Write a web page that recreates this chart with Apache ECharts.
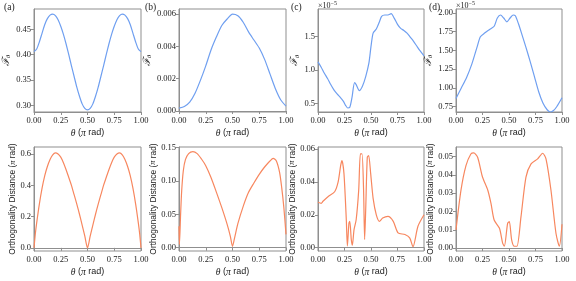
<!DOCTYPE html>
<html><head><meta charset="utf-8">
<script src="https://cdn.jsdelivr.net/npm/echarts@6/dist/echarts.min.js"></script>
<style>html,body{margin:0;padding:0;background:#fff}#c{width:576px;height:281px}</style>
</head><body><div id="c"></div>
<script>
// ---- data ----
const xTicks = [0, 0.25, 0.5, 0.75, 1.0];
const fA = [[0,0.406],[0.025,0.411],[0.05,0.425],[0.075,0.442],[0.1,0.459],[0.125,0.471],[0.15,0.478],[0.175,0.480],[0.2,0.477],[0.225,0.469],[0.25,0.456],[0.275,0.440],[0.3,0.421],[0.325,0.400],[0.35,0.378],[0.375,0.357],[0.4,0.336],[0.425,0.318],[0.45,0.303],[0.475,0.294],[0.5,0.291],[0.525,0.294],[0.55,0.303],[0.575,0.318],[0.6,0.336],[0.625,0.357],[0.65,0.378],[0.675,0.400],[0.7,0.421],[0.725,0.440],[0.75,0.456],[0.775,0.469],[0.8,0.477],[0.825,0.480],[0.85,0.478],[0.875,0.471],[0.9,0.459],[0.925,0.442],[0.95,0.425],[0.975,0.411],[1.0,0.406]];
const fB = [[0,0.00018],[0.05,0.00028],[0.1,0.00055],[0.15,0.0011],[0.2,0.0019],[0.25,0.0028],[0.3,0.0038],[0.35,0.0046],[0.4,0.0053],[0.45,0.0057],[0.5,0.0060],[0.55,0.0059],[0.6,0.0055],[0.65,0.0049],[0.7,0.0044],[0.75,0.0039],[0.8,0.0032],[0.85,0.0023],[0.9,0.0014],[0.95,0.0007],[1.0,0.0003]];
const fC = [[0,1.12],[0.03,1.04],[0.06,0.95],[0.09,0.87],[0.12,0.78],[0.15,0.70],[0.18,0.64],[0.21,0.59],[0.24,0.53],[0.26,0.47],[0.28,0.43],[0.30,0.44],[0.32,0.58],[0.345,0.81],[0.36,0.78],[0.39,0.69],[0.42,0.76],[0.45,0.90],[0.48,1.10],[0.50,1.35],[0.52,1.55],[0.55,1.61],[0.58,1.72],[0.60,1.80],[0.63,1.82],[0.66,1.82],[0.69,1.84],[0.72,1.77],[0.75,1.68],[0.78,1.62],[0.81,1.59],[0.84,1.55],[0.87,1.49],[0.90,1.43],[0.93,1.36],[0.96,1.29],[1.0,1.21]];
const fD = [[0,0.86],[0.05,1.00],[0.10,1.14],[0.15,1.32],[0.20,1.55],[0.23,1.68],[0.27,1.73],[0.32,1.78],[0.36,1.82],[0.39,1.93],[0.42,1.97],[0.45,1.93],[0.48,1.88],[0.51,1.93],[0.54,1.97],[0.56,1.96],[0.59,1.85],[0.62,1.72],[0.66,1.54],[0.70,1.35],[0.74,1.15],[0.78,0.95],[0.82,0.80],[0.86,0.71],[0.89,0.68],[0.92,0.70],[0.95,0.75],[1.0,0.87]];
const oA = [[0,0],[0.0125,0.09],[0.025,0.16],[0.05,0.28],[0.075,0.38],[0.1,0.46],[0.125,0.52],[0.15,0.565],[0.175,0.595],[0.2,0.607],[0.225,0.60],[0.25,0.58],[0.275,0.545],[0.3,0.50],[0.325,0.45],[0.35,0.40],[0.375,0.34],[0.4,0.28],[0.425,0.215],[0.45,0.145],[0.475,0.075],[0.5,0.0],[0.525,0.075],[0.55,0.145],[0.575,0.215],[0.6,0.28],[0.625,0.34],[0.65,0.40],[0.675,0.45],[0.7,0.50],[0.725,0.545],[0.75,0.58],[0.775,0.60],[0.8,0.607],[0.825,0.595],[0.85,0.565],[0.875,0.52],[0.9,0.46],[0.925,0.38],[0.95,0.28],[0.975,0.16],[0.9875,0.09],[1.0,0]];
const oB = [[0,0.032],[0.004,0.005],[0.015,0.05],[0.025,0.085],[0.04,0.115],[0.06,0.132],[0.09,0.141],[0.13,0.144],[0.17,0.141],[0.21,0.133],[0.25,0.123],[0.30,0.105],[0.35,0.083],[0.40,0.060],[0.45,0.035],[0.48,0.017],[0.50,0.002],[0.52,0.015],[0.55,0.036],[0.60,0.062],[0.65,0.083],[0.70,0.097],[0.75,0.110],[0.80,0.121],[0.85,0.130],[0.88,0.134],[0.91,0.130],[0.94,0.113],[0.96,0.090],[0.98,0.060],[1.0,0.020]];
const oC = [[0,0.0276],[0.03,0.027],[0.047,0.0282],[0.094,0.031],[0.157,0.034],[0.19,0.040],[0.214,0.050],[0.226,0.053],[0.245,0.045],[0.267,0.017],[0.277,0.001],[0.292,0.015],[0.30,0.016],[0.314,0.005],[0.324,0.0015],[0.34,0.011],[0.36,0.017],[0.384,0.035],[0.40,0.057],[0.415,0.057],[0.43,0.035],[0.44,0.005],[0.45,0.023],[0.465,0.055],[0.478,0.056],[0.497,0.045],[0.52,0.030],[0.55,0.020],[0.58,0.016],[0.61,0.018],[0.66,0.019],[0.71,0.016],[0.755,0.009],[0.82,0.008],[0.865,0.006],[0.896,0.0006],[0.943,0.013],[1.0,0.020]];
const oD = [[0,0.0099],[0.047,0.0316],[0.094,0.045],[0.14,0.0514],[0.167,0.052],[0.204,0.0496],[0.25,0.0388],[0.30,0.0316],[0.33,0.0244],[0.36,0.0153],[0.41,0.0108],[0.44,0.0027],[0.456,0.001],[0.487,0.0135],[0.503,0.0144],[0.525,0.0045],[0.55,0.001],[0.575,0.001],[0.613,0.017],[0.66,0.0388],[0.708,0.046],[0.77,0.0487],[0.818,0.0518],[0.849,0.0487],[0.896,0.0316],[0.943,0.0081],[0.975,0.001],[1.0,0.013]];

const yTicksFA = [0.30,0.35,0.40,0.45];
const yTicksFB = [0,0.002,0.004,0.006];
const yTicksFC = [0.5,1.0,1.5];
const yTicksFD = [0.75,1.00,1.25,1.50,1.75,2.00];
const yTicksOA = [0,0.2,0.4,0.6];
const yTicksOB = [0,0.05,0.10,0.15];
const yTicksOC = [0,0.02,0.04,0.06];
const yTicksOD = [0,0.01,0.02,0.03,0.04,0.05];

// ---- layout ----
const lefts = [34,179,318,456];
const widths = [107,107,106,106];
const panels = [
  {d:fA, t:yTicksFA, dec:2, min:0.287, max:0.490, row:0, gap:20},
  {d:fB, t:yTicksFB, dec:3, min:-0.00006, max:0.00632, row:0, gap:25},
  {d:fC, t:yTicksFC, dec:1, min:0.37, max:1.91, row:0, gap:13},
  {d:fD, t:yTicksFD, dec:2, min:0.68, max:2.05, row:0, gap:14},
  {d:oA, t:yTicksOA, dec:1, min:-0.02, max:0.645, row:1, gap:14},
  {d:oB, t:yTicksOB, dec:2, min:-0.005, max:0.151, row:1, gap:19},
  {d:oC, t:yTicksOC, dec:2, min:-0.002, max:0.0612, row:1, gap:18},
  {d:oD, t:yTicksOD, dec:2, min:-0.0016, max:0.0552, row:1, gap:20}
];
const spine = '#8f8f8f';
const serif = 'Liberation Serif';
const grid=[], xAxis=[], yAxis=[], series=[];
panels.forEach((p,i)=>{
  const col = i%4;
  grid.push({left:lefts[col], width:widths[col], top: p.row===0?9:147, height: p.row===0?103:104,
    show:true, borderColor:spine, borderWidth:1, backgroundColor:'transparent', containLabel:false});
  xAxis.push({type:'value', gridIndex:i, min:0, max:1,
    axisLine:{show:true, lineStyle:{color:spine}},
    axisTick:{show:true, customValues:xTicks, length:3, lineStyle:{color:spine}},
    axisLabel:{customValues:xTicks, formatter:v=>v.toFixed(2), fontFamily:serif, fontSize:8.5, color:'#222', margin:4},
    splitLine:{show:false},
    name:'{i|θ}{n| (}{p|π}{n| rad)}', nameLocation:'middle', nameGap:16,
    nameTextStyle:{rich:{i:{fontFamily:serif, fontStyle:'italic', fontSize:9.5, color:'#222'},
      n:{fontFamily:'Liberation Sans', fontSize:9, color:'#222'},
      p:{fontFamily:serif, fontStyle:'italic', fontSize:9.5, color:'#222'}}}
  });
  const yname = p.row===0 ? '{f|ℱ}{s|θ}' : 'Orthogonality Distance ({p|π} rad)';
  yAxis.push({type:'value', gridIndex:i, min:p.min, max:p.max,
    axisLine:{show:true, lineStyle:{color:spine}},
    axisTick:{show:true, customValues:p.t, length:3, lineStyle:{color:spine}},
    axisLabel:{customValues:p.t, formatter:v=>v.toFixed(p.dec), fontFamily:serif, fontSize:8.5, color:'#222', margin:3},
    splitLine:{show:false},
    name:yname, nameLocation:'middle', nameRotate:90, nameGap:p.gap,
    nameTextStyle: p.row===0 ? {rich:{f:{fontFamily:'DejaVu Serif', fontStyle:'italic', fontSize:10, color:'#222'},
        s:{fontFamily:serif, fontStyle:'italic', fontSize:6.5, color:'#222', padding:[5,0,0,0]}}}
      : {fontFamily:'Liberation Sans', fontSize:8.4, color:'#222',
         rich:{p:{fontFamily:serif, fontStyle:'italic', fontSize:8.4, color:'#222'}}}
  });
  series.push({type:'line', xAxisIndex:i, yAxisIndex:i, data:p.d, showSymbol:false, smooth:0.25,
    lineStyle:{width:1.2, color: p.row===0 ? '#6f9ff0' : '#f7875f'}, silent:true, animation:false});
});

const labels = ['(a)','(b)','(c)','(d)'];
const labelX = [4,145,291,429];
const graphic = labels.map((t,i)=>({type:'text', left:labelX[i], top:2,
  style:{text:t, font:'9.5px "Liberation Serif"', fill:'#222'}}));
[318,456].forEach(x=>graphic.push({type:'text', left:x, top:0,
  style:{text:'×10{s|−5}', font:'8px "Liberation Serif"', fill:'#222',
    rich:{s:{font:'6px "Liberation Serif"', fill:'#222', padding:[0,0,5,0]}}}}));

const chart = echarts.init(document.getElementById('c'), null, {renderer:'canvas'});
chart.setOption({animation:false, grid, xAxis, yAxis, series, graphic});
</script></body></html>
